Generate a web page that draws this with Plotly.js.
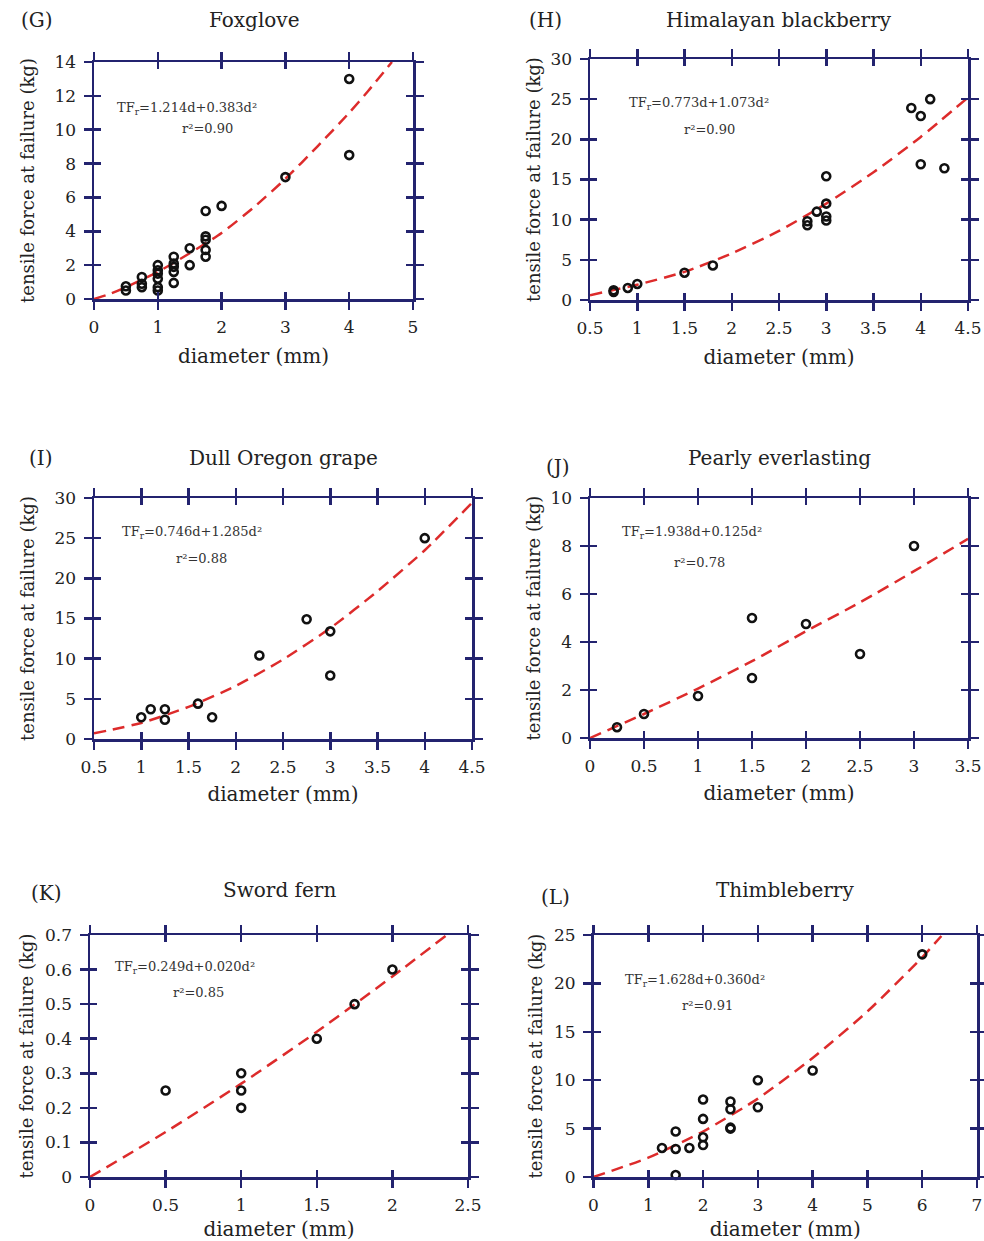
<!DOCTYPE html>
<html>
<head>
<meta charset="utf-8">
<script src="https://cdn.plot.ly/plotly-3.0.1.min.js"></script>
<style>html,body{margin:0;padding:0;background:#fff;}#chart{width:984px;height:1241px;}</style>
</head>
<body>
<div id="chart"></div>
<script>
// ---------- DATA ----------
// (G) Foxglove
const gX = [0.5,0.5,0.75,0.75,0.75,1,1,1,1,1,1,1.25,1.25,1.25,1.25,1.25,1.5,1.5,1.75,1.75,1.75,1.75,1.75,2,3,4,4];
const gY = [0.75,0.5,1.3,0.9,0.7,2.0,1.7,1.5,1.2,0.7,0.5,2.5,2.1,1.9,1.6,0.95,3.0,2.0,5.2,3.7,3.5,2.9,2.5,5.5,7.2,13.0,8.5];
const gFitX = [0,0.25,0.5,1,1.5,2,2.5,3,3.5,4,4.3,4.67];
const gFitY = [0,0.3,0.7,1.6,2.7,3.9,5.4,7.1,9.0,11.0,12.3,14.0];

// (H) Himalayan blackberry
const hX = [0.75,0.75,0.9,1.0,1.5,1.8,2.8,2.8,2.9,3,3,3,3,3.9,4.0,4.1,4.0,4.25];
const hY = [1.0,1.2,1.5,2.0,3.4,4.3,9.8,9.3,11.0,15.4,12.0,10.4,9.9,23.9,22.9,25.0,16.9,16.4];
const hFitX = [0.5,1,1.5,2,2.5,3,3.5,4,4.5];
const hFitY = [0.6,1.9,3.5,5.8,8.6,12.0,15.9,20.3,25.2];

// (I) Dull Oregon grape
const iX = [1.0,1.1,1.25,1.25,1.6,1.75,2.25,2.75,3.0,3.0,4.0];
const iY = [2.7,3.7,3.7,2.4,4.4,2.7,10.4,14.9,13.4,7.9,25.0];
const iFitX = [0.5,1,1.5,2,2.5,3,3.5,4,4.5];
const iFitY = [0.7,2.0,4.0,6.6,9.9,13.8,18.4,23.5,29.4];

// (J) Pearly everlasting
const jX = [0.25,0.5,1.0,1.5,1.5,2.0,2.5,3.0];
const jY = [0.45,1.0,1.75,5.0,2.5,4.75,3.5,8.0];
const jFitX = [0,0.5,1,1.5,2,2.5,3,3.5];
const jFitY = [0,1.0,2.06,3.2,4.45,5.65,6.95,8.3];

// (K) Sword fern
const kX = [0.5,1.0,1.0,1.0,1.5,1.75,2.0];
const kY = [0.25,0.30,0.25,0.20,0.40,0.50,0.60];
const kFitX = [0,0.5,1,1.5,2,2.36];
const kFitY = [0,0.13,0.27,0.42,0.58,0.70];

// (L) Thimbleberry
const lX = [1.25,1.5,1.5,1.5,1.75,2,2,2,2,2.5,2.5,2.5,2.5,3,3,4,6];
const lY = [3.0,4.7,2.9,0.2,3.0,8.0,6.0,4.1,3.3,7.8,7.0,5.0,5.1,10.0,7.2,11.0,23.0];
const lFitX = [0,1,2,3,4,5,6,6.35];
const lFitY = [0,2.0,4.7,8.1,12.3,17.1,22.7,24.9];

// Tick values / labels
const xTicksG = [0,1,2,3,4,5];
const yTicksG = [0,2,4,6,8,10,12,14];
const xTicksH = [0.5,1,1.5,2,2.5,3,3.5,4,4.5];
const yTicksH = [0,5,10,15,20,25,30];
const xTicksI = [0.5,1,1.5,2,2.5,3,3.5,4,4.5];
const yTicksI = [0,5,10,15,20,25,30];
const xTicksJ = [0,0.5,1,1.5,2,2.5,3,3.5];
const yTicksJ = [0,2,4,6,8,10];
const xTicksK = [0,0.5,1,1.5,2,2.5];
const yTicksK = [0,0.1,0.2,0.3,0.4,0.5,0.6,0.7];
const xTicksL = [0,1,2,3,4,5,6,7];
const yTicksL = [0,5,10,15,20,25];

const letters = ['(G)','(H)','(I)','(J)','(K)','(L)'];
const titles = ['Foxglove','Himalayan blackberry','Dull Oregon grape','Pearly everlasting','Sword fern','Thimbleberry'];
const equations = [
  'TF<sub>r</sub>=1.214d+0.383d²',
  'TF<sub>r</sub>=0.773d+1.073d²',
  'TF<sub>r</sub>=0.746d+1.285d²',
  'TF<sub>r</sub>=1.938d+0.125d²',
  'TF<sub>r</sub>=0.249d+0.020d²',
  'TF<sub>r</sub>=1.628d+0.360d²'
];
const rsq = ['r²=0.90','r²=0.90','r²=0.88','r²=0.78','r²=0.85','r²=0.91'];
const xTitle = 'diameter (mm)';
const yTitle = 'tensile force at failure (kg)';

// ---------- LAYOUT HELPERS ----------
const W = 984, H = 1241;
const FONT = 'DejaVu Serif, Liberation Serif, serif';
const NAVY = '#23236f';
const panels = [
  {pts:[gX,gY], fit:[gFitX,gFitY], xr:[0,5],   yr:[0,14],  xt:xTicksG, yt:yTicksG, px:[94,413],  py:[62,299],  eq:[115,108], rs:[207,129], lt:[37,20],  tt:20,  xs:13, ys:15},
  {pts:[hX,hY], fit:[hFitX,hFitY], xr:[0.5,4.5], yr:[0,30], xt:xTicksH, yt:yTicksH, px:[590,968], py:[59,300],  eq:[627,103], rs:[709,130], lt:[545,20], tt:20,  xs:13, ys:5},
  {pts:[iX,iY], fit:[iFitX,iFitY], xr:[0.5,4.5], yr:[0,30], xt:xTicksI, yt:yTicksI, px:[94,472],  py:[498,739], eq:[120,533], rs:[201,558], lt:[41,458], tt:458, xs:11, ys:15},
  {pts:[jX,jY], fit:[jFitX,jFitY], xr:[0,3.5], yr:[0,10],  xt:xTicksJ, yt:yTicksJ, px:[590,968], py:[498,738], eq:[620,533], rs:[699,562], lt:[558,467], tt:458, xs:11, ys:5},
  {pts:[kX,kY], fit:[kFitX,kFitY], xr:[0,2.5], yr:[0,0.7], xt:xTicksK, yt:yTicksK, px:[90,468],  py:[935,1177], eq:[113,967], rs:[198,992], lt:[46,893], tt:890, xs:9, ys:7},
  {pts:[lX,lY], fit:[lFitX,lFitY], xr:[0,7],   yr:[0,25],  xt:xTicksL, yt:yTicksL, px:[593.5,977], py:[935,1177], eq:[623,980], rs:[707,1005], lt:[555,897], tt:890, xs:9, ys:7}
];

const fx = p => p / W;
const fy = p => 1 - p / H;

const traces = [];
const layout = {
  width: W, height: H,
  margin: {l:0, r:0, t:0, b:0},
  paper_bgcolor: '#fff', plot_bgcolor: 'rgba(0,0,0,0)',
  showlegend: false,
  font: {family: FONT, color: '#222', size: 17},
  annotations: []
};

panels.forEach((p, i) => {
  const n = i + 1;
  const xa = n === 1 ? 'x' : 'x' + n;
  const ya = n === 1 ? 'y' : 'y' + n;
  const xKey = n === 1 ? 'xaxis' : 'xaxis' + n;
  const yKey = n === 1 ? 'yaxis' : 'yaxis' + n;
  const on = n + 6;

  const common = {
    showgrid: false, zeroline: false, showline: true, linecolor: NAVY, linewidth: 2.5,
    ticks: 'outside', ticklen: 8, tickwidth: 2.5, tickcolor: NAVY, mirror: 'ticks',
    tickfont: {family: FONT, size: 17, color: '#222'}, fixedrange: true
  };
  layout[xKey] = Object.assign({}, common, {
    domain: [fx(p.px[0]), fx(p.px[1])], range: p.xr, anchor: ya,
    tickmode: 'array', tickvals: p.xt, ticktext: p.xt.map(String), ticklabelstandoff: 3,
    title: {text: xTitle, font: {family: FONT, size: 20, color: '#222'}, standoff: p.xs}
  });
  layout[yKey] = Object.assign({}, common, {
    domain: [fy(p.py[1]), fy(p.py[0])], range: p.yr, anchor: xa,
    tickmode: 'array', tickvals: p.yt, ticktext: p.yt.map(String), ticklabelstandoff: 4,
    title: {text: yTitle, font: {family: FONT, size: 18, color: '#222'}, standoff: p.ys}
  });
  // overlay axes for inward tick halves
  const inner = {
    showgrid: false, zeroline: false, showline: false, showticklabels: false,
    ticks: 'inside', ticklen: 7, tickwidth: 2.5, tickcolor: NAVY, mirror: 'ticks', fixedrange: true,
    tickmode: 'array'
  };
  layout['xaxis' + on] = Object.assign({}, inner, {overlaying: xa, anchor: 'y' + on, range: p.xr, tickvals: p.xt});
  layout['yaxis' + on] = Object.assign({}, inner, {overlaying: ya, anchor: 'x' + on, range: p.yr, tickvals: p.yt});
  traces.push({type: 'scatter', mode: 'markers', x: [], y: [], xaxis: 'x' + on, yaxis: 'y' + on, hoverinfo: 'skip'});

  traces.push({
    type: 'scatter', mode: 'lines', x: p.fit[0], y: p.fit[1], xaxis: xa, yaxis: ya,
    line: {color: '#dd2b2b', width: 2.5, dash: '12px,7px', shape: 'spline', smoothing: 0.6},
    cliponaxis: true, hoverinfo: 'skip'
  });
  traces.push({
    type: 'scatter', mode: 'markers', x: p.pts[0], y: p.pts[1], xaxis: xa, yaxis: ya,
    marker: {symbol: 'circle-open', size: 8, color: '#111', line: {width: 2.6, color: '#111'}},
    cliponaxis: false
  });

  layout.annotations.push(
    {xref: 'paper', yref: 'paper', x: fx(p.lt[0]), y: fy(p.lt[1]), xanchor: 'center', yanchor: 'middle',
     text: letters[i], showarrow: false, font: {family: FONT, size: 20, color: '#222'}},
    {xref: 'paper', yref: 'paper', x: fx((p.px[0] + p.px[1]) / 2), y: fy(p.tt), xanchor: 'center', yanchor: 'middle',
     text: titles[i], showarrow: false, font: {family: FONT, size: 20, color: '#222'}},
    {xref: 'paper', yref: 'paper', x: fx(p.eq[0]), y: fy(p.eq[1]), xanchor: 'left', yanchor: 'middle',
     text: equations[i], showarrow: false, font: {family: FONT, size: 13, color: '#333'}},
    {xref: 'paper', yref: 'paper', x: fx(p.rs[0]), y: fy(p.rs[1]), xanchor: 'center', yanchor: 'middle',
     text: rsq[i], showarrow: false, font: {family: FONT, size: 13, color: '#333'}}
  );
});

Plotly.newPlot('chart', traces, layout, {displayModeBar: false, staticPlot: true});
</script>
</body>
</html>
